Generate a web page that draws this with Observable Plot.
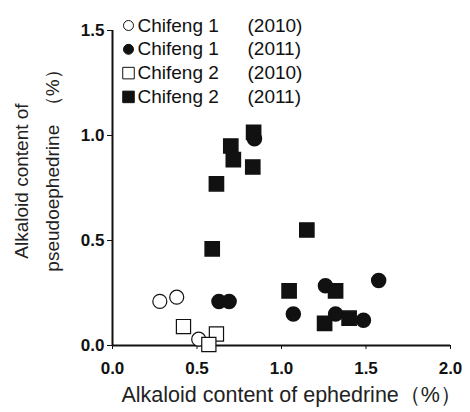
<!DOCTYPE html>
<html><head><meta charset="utf-8">
<script src="https://cdn.jsdelivr.net/npm/d3@7"></script>
<script src="https://cdn.jsdelivr.net/npm/@observablehq/plot@0.6"></script>
<style>body{margin:0;background:#fff;} svg{font-family:"Liberation Sans",Arial,sans-serif;}</style>
</head><body><div id="chart"></div>
<script>
const series = ["Chifeng 1 (2010)", "Chifeng 1 (2011)", "Chifeng 2 (2010)", "Chifeng 2 (2011)"];
const legendNames = ["Chifeng 1", "Chifeng 1", "Chifeng 2", "Chifeng 2"];
const legendYears = ["(2010)", "(2011)", "(2010)", "(2011)"];
const c1_2010_x = [0.28, 0.38, 0.51];
const c1_2010_y = [0.21, 0.23, 0.03];
const c1_2011_x = [0.63, 0.69, 0.84, 1.07, 1.26, 1.32, 1.485, 1.575];
const c1_2011_y = [0.21, 0.21, 0.985, 0.15, 0.285, 0.15, 0.12, 0.31];
const c2_2010_x = [0.42, 0.615, 0.57];
const c2_2010_y = [0.09, 0.055, 0.005];
const c2_2011_x = [0.835, 0.70, 0.715, 0.83, 0.615, 0.59, 1.15, 1.045, 1.32, 1.255, 1.40];
const c2_2011_y = [1.015, 0.95, 0.885, 0.85, 0.77, 0.46, 0.55, 0.26, 0.26, 0.105, 0.13];
const xTicks = [0, 0.5, 1.0, 1.5, 2.0];
const yTicks = [0, 0.5, 1.0, 1.5];

const toRows = (xs, ys) => xs.map((x, i) => ({x, y: ys[i]}));
const openCircles = toRows(c1_2010_x, c1_2010_y);
const fillCircles = toRows(c1_2011_x, c1_2011_y);
const openSquares = toRows(c2_2010_x, c2_2010_y);
const fillSquares = toRows(c2_2011_x, c2_2011_y);

const rowStep = 23.8;
const rowTop = -5;
const legendMarks = series.flatMap((s, i) => [
  Plot.dot([s], {
    frameAnchor: "top-left", dx: 16, dy: rowTop + i * rowStep,
    r: i < 2 ? 5 : 6.5, symbol: i < 2 ? "circle" : "square",
    fill: i % 2 ? "#111" : "#fff", stroke: "#111", strokeWidth: 1
  }),
  Plot.text([legendNames[i]], {frameAnchor: "top-left", dx: 25, dy: rowTop + i * rowStep, textAnchor: "start", lineAnchor: "middle", fontSize: 19, fill: "#111"}),
  Plot.text([legendYears[i]], {frameAnchor: "top-left", dx: 135, dy: rowTop + i * rowStep, textAnchor: "start", lineAnchor: "middle", fontSize: 19, fill: "#111"})
]);

const plot = Plot.plot({
  width: 470, height: 412,
  marginLeft: 112, marginRight: 20, marginTop: 30, marginBottom: 67,
  x: {domain: [0, 2], label: null},
  y: {domain: [0, 1.5], label: null},
  style: {color: "#111"},
  marks: [
    Plot.axisX({ticks: xTicks, tickFormat: d3.format(".1f"), tickSize: 4, tickPadding: 12, fontWeight: "bold", fontSize: 17, label: null}),
    Plot.axisY({ticks: yTicks, tickFormat: d3.format(".1f"), tickSize: 5, tickPadding: 3, fontWeight: "bold", fontSize: 17, label: null}),
    Plot.ruleX([0], {stroke: "#111", strokeWidth: 2}),
    Plot.ruleY([0], {stroke: "#111", strokeWidth: 2}),
    Plot.dot(fillCircles, {x: "x", y: "y", r: 7, fill: "#111", stroke: "#111"}),
    Plot.dot(fillSquares, {x: "x", y: "y", r: 8, symbol: "square", fill: "#111", stroke: "#111"}),
    Plot.dot(openCircles, {x: "x", y: "y", r: 7, fill: "#fff", stroke: "#111", strokeWidth: 1.2}),
    Plot.dot(openSquares, {x: "x", y: "y", r: 8, symbol: "square", fill: "#fff", stroke: "#111", strokeWidth: 1.2}),
    ...legendMarks,
    Plot.text(["Alkaloid content of ephedrine\uFF08%\uFF09"], {frameAnchor: "bottom-left", dx: 9, dy: 50, textAnchor: "start", lineAnchor: "middle", fontSize: 21.5, fill: "#222"}),
    Plot.text(["Alkaloid content of"], {frameAnchor: "left", dx: -91, dy: -7, rotate: -90, textAnchor: "middle", fontSize: 19, fill: "#222"}),
    Plot.text(["pseudoephedrine\u2002\uFF08%\uFF09"], {frameAnchor: "left", dx: -60, dy: -22, rotate: -90, textAnchor: "middle", fontSize: 19, fill: "#222"})
  ]
});
document.getElementById("chart").append(plot);
</script></body></html>
